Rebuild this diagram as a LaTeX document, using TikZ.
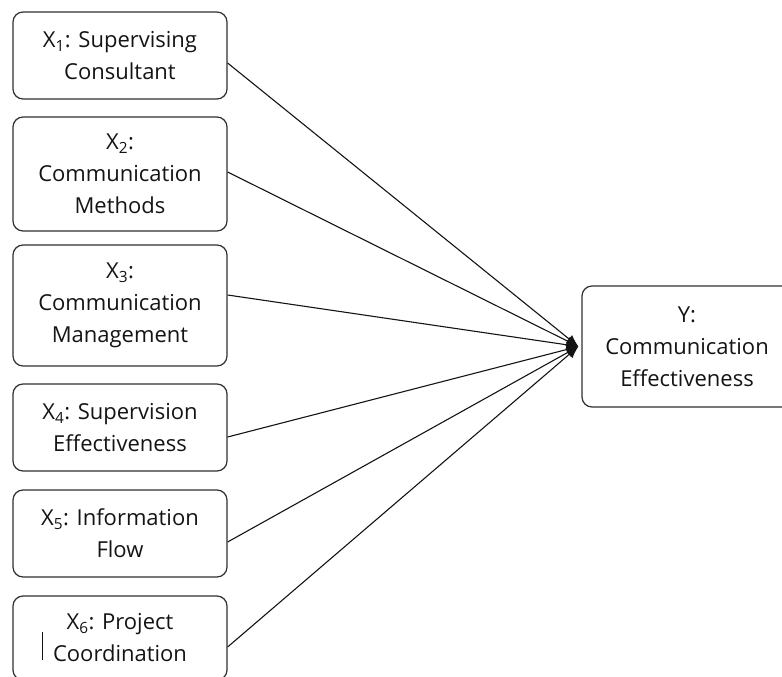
\documentclass[tikz,border=0pt]{standalone}
\usepackage{fontspec}
\setmainfont{Open Sans}
\usetikzlibrary{arrows.meta}
\definecolor{ink}{HTML}{141414}
\definecolor{edge}{HTML}{303030}
\begin{document}
\begin{tikzpicture}[x=1pt,y=-1pt,
  box/.style={draw=edge, line width=1.2pt, rounded corners=10pt, align=center,
    text=ink, inner sep=0pt, minimum width=214pt,
    font=\fontsize{22}{32}\selectfont},
  conn/.style={draw=ink, line width=1.1pt, -{Latex[length=12pt,width=10pt]}}]
\useasboundingbox (0,0) rectangle (782,677);
\clip (0,0) rectangle (782,677);
\node[box, minimum height=87pt] (b1) at (120,55.5) {X\textsubscript{1}: Supervising\\Consultant};
\node[box, minimum height=114pt] (b2) at (120,174) {X\textsubscript{2}:\\Communication\\Methods};
\node[box, minimum height=121pt] (b3) at (120,305.5) {X\textsubscript{3}:\\Communication\\Management};
\node[box, minimum height=87pt] (b4) at (120,427.5) {X\textsubscript{4}: Supervision\\Effectiveness};
\node[box, minimum height=87pt] (b5) at (120,533.5) {X\textsubscript{5}: Information\\Flow};
\node[box, minimum height=84pt] (b6) at (120,638) {X\textsubscript{6}: Project\\Coordination};
\node[box, minimum width=210pt, minimum height=121pt] (y) at (687,346.5) {Y:\\Communication\\Effectiveness};
\coordinate (tip) at ([xshift=-3pt]y.west);
\draw[conn] ([yshift=-7.5pt]b1.east) -- (tip);
\draw[conn] ([yshift=2pt]b2.east) -- (tip);
\draw[conn] ([yshift=10.5pt]b3.east) -- (tip);
\draw[conn] ([yshift=-9.5pt]b4.east) -- (tip);
\draw[conn] ([yshift=-8.5pt]b5.east) -- (tip);
\draw[conn] ([yshift=-9pt]b6.east) -- (tip);
\draw[ink, line width=0.9pt] (42,632) -- (42,660);
\end{tikzpicture}
\end{document}
